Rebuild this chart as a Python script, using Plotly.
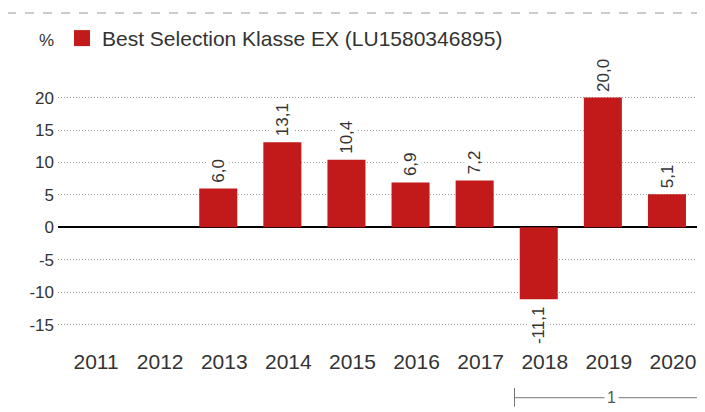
import plotly.graph_objects as go

years = ["2011", "2012", "2013", "2014", "2015", "2016", "2017", "2018", "2019", "2020"]
values = [None, None, 6.0, 13.1, 10.4, 6.9, 7.2, -11.1, 20.0, 5.1]
labels = [None, None, "6,0", "13,1", "10,4", "6,9", "7,2", "-11,1", "20,0", "5,1"]
y_ticks = [-15, -10, -5, 0, 5, 10, 15, 20]
series_name = "Best Selection Klasse EX (LU1580346895)"

RED = "#c21a1a"
TXT = "#333333"
FONT = "Liberation Sans, Arial, sans-serif"

fig = go.Figure()
fig.add_trace(go.Bar(x=years, y=values, marker=dict(color=RED, line=dict(width=0)),
                     showlegend=False, hoverinfo="x+y"))
fig.add_trace(go.Scatter(x=[years[0]], y=[None], mode="markers", name=series_name,
                         marker=dict(symbol="square", size=21, color=RED)))

for i, (v, lab) in enumerate(zip(values, labels)):
    if v is None:
        continue
    fig.add_annotation(x=i, y=v, text=lab, textangle=-90, showarrow=False,
                       xanchor="center", yanchor="bottom" if v >= 0 else "top",
                       yshift=4 if v >= 0 else -5, bgcolor="white", borderpad=1,
                       font=dict(size=17, color=TXT, family=FONT))

# plot area: 641 px wide starting at x=50 in the figure
PW = 641.0

def px(x):
    return (x - 50.0) / PW

# unit label
fig.add_annotation(xref="paper", yref="paper", x=px(38.5), y=1.107, text="%",
                   showarrow=False, xanchor="center", yanchor="middle",
                   font=dict(size=17, color=TXT, family=FONT))

# top dashed separator
fig.add_shape(type="line", xref="paper", yref="paper", x0=px(-1), x1=px(697),
              y0=1.2096, y1=1.2096, line=dict(color="#bbbbbb", width=1.5, dash="dash"))

# bottom period bracket
fig.add_shape(type="line", xref="paper", yref="paper", x0=px(506.5), x1=px(697),
              y0=-0.2048, y1=-0.2048, line=dict(color="#777777", width=1))
fig.add_shape(type="line", xref="paper", yref="paper", x0=px(506.5), x1=px(506.5),
              y0=-0.169, y1=-0.238, line=dict(color="#777777", width=1))
fig.add_annotation(xref="paper", yref="paper", x=px(603.5), y=-0.2048, text="1",
                   showarrow=False, xanchor="center", yanchor="middle", bgcolor="white",
                   borderpad=2, font=dict(size=16, color="#555555", family=FONT))

fig.update_layout(
    width=697, height=404,
    margin=dict(l=50, r=6, t=62, b=70),
    paper_bgcolor="white", plot_bgcolor="white",
    font=dict(family=FONT, color=TXT),
    bargap=0.407,
    showlegend=True,
    legend=dict(orientation="h", x=px(54), y=1.116, xanchor="left", yanchor="middle",
                font=dict(size=21, color=TXT, family=FONT), bgcolor="rgba(0,0,0,0)",
                itemsizing="trace"),
    xaxis=dict(type="category", categoryorder="array", categoryarray=years,
               range=[-0.5, 9.5], autorange=False,
               showgrid=False, showline=False, ticks="", ticklabelshift=6,
               ticklabelstandoff=5,
               tickfont=dict(size=21, color=TXT, family=FONT), fixedrange=True),
    yaxis=dict(range=[-17.68, 24.25], autorange=False, tickvals=y_ticks,
               ticktext=[str(t) for t in y_ticks], ticklabelstandoff=3,
               showgrid=True, gridcolor="#999999", griddash="1px,2px", gridwidth=1,
               zeroline=True, zerolinecolor="black", zerolinewidth=1.5,
               showline=False, ticks="", tickfont=dict(size=17, color=TXT, family=FONT),
               fixedrange=True),
)

fig.write_html("out.html")
